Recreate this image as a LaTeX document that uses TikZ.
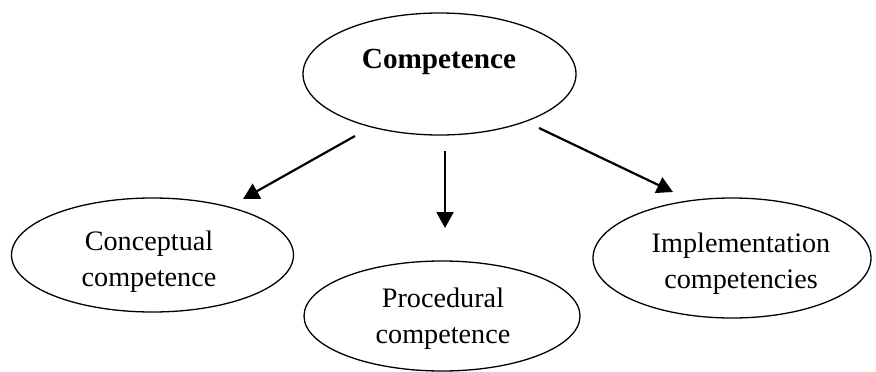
\documentclass[tikz,border=0pt]{standalone}
\usepackage{fontspec}
\setmainfont{Liberation Serif}
\usetikzlibrary{shapes.geometric,arrows.meta}
\begin{document}
\begin{tikzpicture}[x=1pt,y=-1pt,
  oval/.style={draw,line width=1.3pt,ellipse,inner sep=0pt},
  txt/.style={inner sep=0pt,align=center,anchor=base,
    font=\fontsize{28.2}{35.5}\selectfont},
  arr/.style={line width=2.2pt,-{Triangle[length=16pt,width=17pt]}}]
\useasboundingbox (0,0) rectangle (876,372);
\node[oval,minimum width=273pt,minimum height=122pt] (top) at (439.5,74) {};
\node[txt,font=\fontsize{29.2}{35}\selectfont\bfseries] (topt) at (439,68) {Competence};
\node[oval,minimum width=282pt,minimum height=114pt] (con) at (152.5,255) {};
\node[txt] (cont) at (149,286) {Conceptual\\competence};
\node[oval,minimum width=276pt,minimum height=110pt] (pro) at (442,316) {};
\node[txt] (prot) at (443,343) {Procedural\\competence};
\node[oval,minimum width=278pt,minimum height=120pt] (imp) at (732,258) {};
\node[txt] (impt) at (741,288) {Implementation\\competencies};
\coordinate (a1s) at (355,136);
\coordinate (a1e) at (243,199);
\coordinate (a2s) at (445,151);
\coordinate (a2e) at (445,228);
\coordinate (a3s) at (539,128);
\coordinate (a3e) at (673,192);
\draw[arr] (a1s) -- (a1e);
\draw[arr] (a2s) -- (a2e);
\draw[arr] (a3s) -- (a3e);
\end{tikzpicture}
\end{document}
